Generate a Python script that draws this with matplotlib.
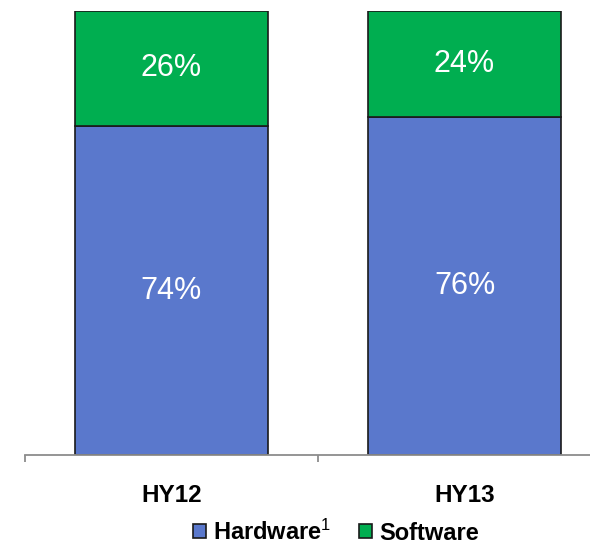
import numpy as np
import matplotlib.pyplot as plt
from matplotlib.patches import Patch

plt.rcParams['font.family'] = 'sans-serif'
plt.rcParams['font.sans-serif'] = ['Liberation Sans', 'Arial', 'DejaVu Sans']
plt.rcParams['mathtext.fontset'] = 'custom'
plt.rcParams['mathtext.rm'] = 'Liberation Sans'

# Revenue split by half-year (%)
periods = ["HY12", "HY13"]
hardware = [74, 76]
software = [26, 24]

hw_color = '#5A78CC'
sw_color = '#00AE50'

fig = plt.figure(figsize=(5.9, 5.45), dpi=100)
ax = fig.add_axes([25 / 590, 90 / 545, 586 / 590, 444.3 / 545])

x = np.arange(len(periods))
width = 0.66
ax.bar(x, hardware, width, color=hw_color, edgecolor='#1a1a1a', linewidth=1.2)
ax.bar(x, software, width, bottom=hardware, color=sw_color, edgecolor='#1a1a1a', linewidth=1.2)

for i in range(len(periods)):
    ax.text(x[i], hardware[i] / 2, f"{hardware[i]}%", ha='center', va='center',
            color='white', fontsize=22)
    ax.text(x[i], hardware[i] + software[i] / 2, f"{software[i]}%", ha='center', va='center',
            color='white', fontsize=22)

ax.set_xlim(-0.5, 1.5)
ax.set_ylim(0, 100)
ax.set_yticks([])
for s in ['top', 'right', 'left']:
    ax.spines[s].set_visible(False)
ax.spines['bottom'].set_color('#8c8c8c')
ax.spines['bottom'].set_linewidth(1.3)

ax.set_xticks(x)
ax.set_xticklabels(periods, fontsize=17.5, fontweight='bold')
ax.tick_params(axis='x', which='major', length=0, pad=21)
ax.set_xticks([-0.5, 0.5, 1.5], minor=True)
ax.tick_params(axis='x', which='minor', length=5, width=1.3, color='#8c8c8c', direction='out')

handles = [Patch(facecolor=hw_color, edgecolor='#1a1a1a', linewidth=1.2),
           Patch(facecolor=sw_color, edgecolor='#1a1a1a', linewidth=1.2)]
fig.legend(handles, ['Hardware$^{1}$', 'Software'], loc='center',
           bbox_to_anchor=(336 / 590, 1 - 532 / 545), ncol=2, frameon=False,
           prop={'size': 17, 'weight': 'bold'}, handlelength=0.55, handleheight=0.55,
           handletextpad=0.3, columnspacing=1.2, borderpad=0)

fig.savefig('out.png', dpi=100)
